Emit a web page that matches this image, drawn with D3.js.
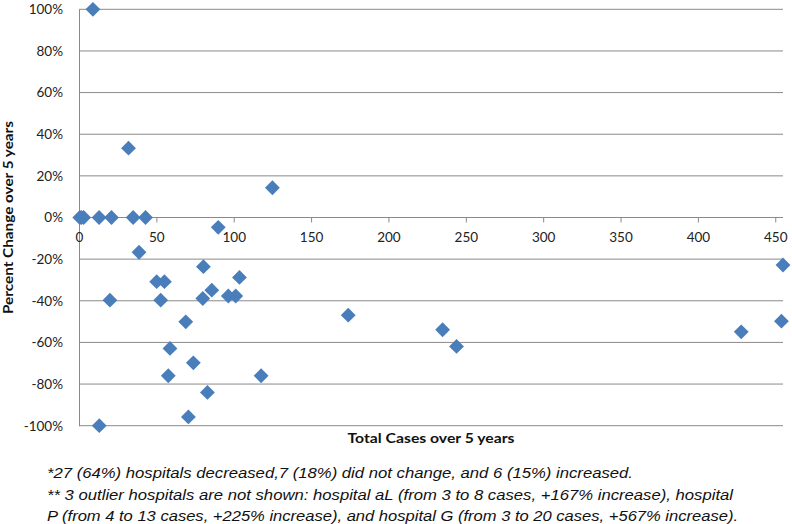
<!DOCTYPE html>
<html><head><meta charset="utf-8">
<script src="https://cdn.jsdelivr.net/npm/d3@7"></script>
<style>body{margin:0;background:#fff}</style>
</head><body>
<svg id="c" width="792" height="524"></svg>
<script>
const cases =   [0.5, 1.5, 3, 13, 21, 35, 43, 9, 32, 125, 90, 38.8, 80.4, 50.2, 55.2, 103.7, 85.8, 80, 96.5, 101.3, 20, 52.8, 69, 58.8, 73.9, 57.7, 117.7, 83, 70.7, 13.1, 174, 235, 244, 428, 454, 455];
const change =  [0, 0, 0, 0, 0, 0, 0, 100, 33.3, 14.3, -4.7, -16.7, -23.6, -30.8, -30.8, -28.8, -34.9, -38.9, -37.7, -37.7, -39.7, -39.7, -50.1, -62.9, -69.8, -76, -76, -84, -95.8, -100, -46.9, -53.9, -61.9, -54.9, -49.8, -22.8];
const xTicks = [0, 50, 100, 150, 200, 250, 300, 350, 400, 450];
const yTicks = [100, 80, 60, 40, 20, 0, -20, -40, -60, -80, -100];
const notes = [
 "*27 (64%) hospitals decreased,7 (18%) did not change, and 6 (15%) increased.",
 "** 3 outlier hospitals are not shown: hospital aL (from 3 to 8 cases, +167% increase), hospital",
 "P (from 4 to 13 cases, +225% increase), and hospital G (from 3 to 20 cases, +567% increase)."
];

const svg = d3.select("#c");
const L = 79, R = 783, T = 9.3, B = 425.7;
const x = d3.scaleLinear().domain([0, 455]).range([L, R]);
const y = d3.scaleLinear().domain([-100, 100]).range([B, T]);
const grid = "#8a8a8a";
const font = "Lato, 'Open Sans', sans-serif";

// gridlines
svg.append("g").selectAll("line").data(yTicks).join("line")
  .attr("x1", L).attr("x2", R).attr("y1", d => y(d)).attr("y2", d => y(d))
  .attr("stroke", grid).attr("stroke-width", 1);

// y axis
const yAxis = svg.append("g").attr("transform", `translate(${L},0)`)
  .call(d3.axisLeft(y).tickValues(yTicks).tickSize(0).tickPadding(16).tickFormat(d => d + "%"));
yAxis.select(".domain").attr("stroke", grid);
yAxis.selectAll("text").attr("font-family", font).attr("font-size", 13.5).attr("fill", "#222");

// x axis at 0%
const xAxis = svg.append("g").attr("transform", `translate(0,${y(0)})`)
  .call(d3.axisBottom(x).tickValues(xTicks).tickSize(5).tickPadding(10));
xAxis.select(".domain").attr("stroke", grid).attr("d", `M${L},0H${R}`);
xAxis.selectAll("line").attr("stroke", grid);
xAxis.selectAll("text").attr("font-family", font).attr("font-size", 13.5).attr("fill", "#222");

// points (diamonds)
const sym = d3.symbol().type(d3.symbolDiamond2).size(140);
svg.append("g").selectAll("path").data(cases.map((c, i) => [c, change[i]])).join("path")
  .attr("d", sym)
  .attr("transform", d => `translate(${x(d[0])},${y(d[1])})`)
  .attr("fill", "#4a7ebb");

// axis titles
svg.append("text").attr("x", (L + R) / 2).attr("y", 443).attr("text-anchor", "middle")
  .attr("font-family", font).attr("font-weight", "bold").attr("font-size", 14).attr("fill", "#111")
  .attr("textLength", 167).attr("lengthAdjust", "spacingAndGlyphs")
  .text("Total Cases over 5 years");
svg.append("text").attr("transform", `translate(13,${(T + B) / 2}) rotate(-90)`).attr("text-anchor", "middle")
  .attr("font-family", font).attr("font-weight", "bold").attr("font-size", 14).attr("fill", "#111")
  .attr("textLength", 193).attr("lengthAdjust", "spacingAndGlyphs")
  .text("Percent Change over 5 years");

// notes
const widths = [586, 686, 691];
const ys = [478, 500, 521];
notes.forEach((t, i) => {
  svg.append("text").attr("x", 47).attr("y", ys[i])
    .attr("font-family", "'Liberation Sans Narrow', 'Liberation Sans', Arial, sans-serif")
    .attr("font-style", "italic").attr("font-size", 15).attr("fill", "#111")
    .attr("textLength", widths[i]).attr("lengthAdjust", "spacingAndGlyphs")
    .text(t);
});
</script>
</body></html>
